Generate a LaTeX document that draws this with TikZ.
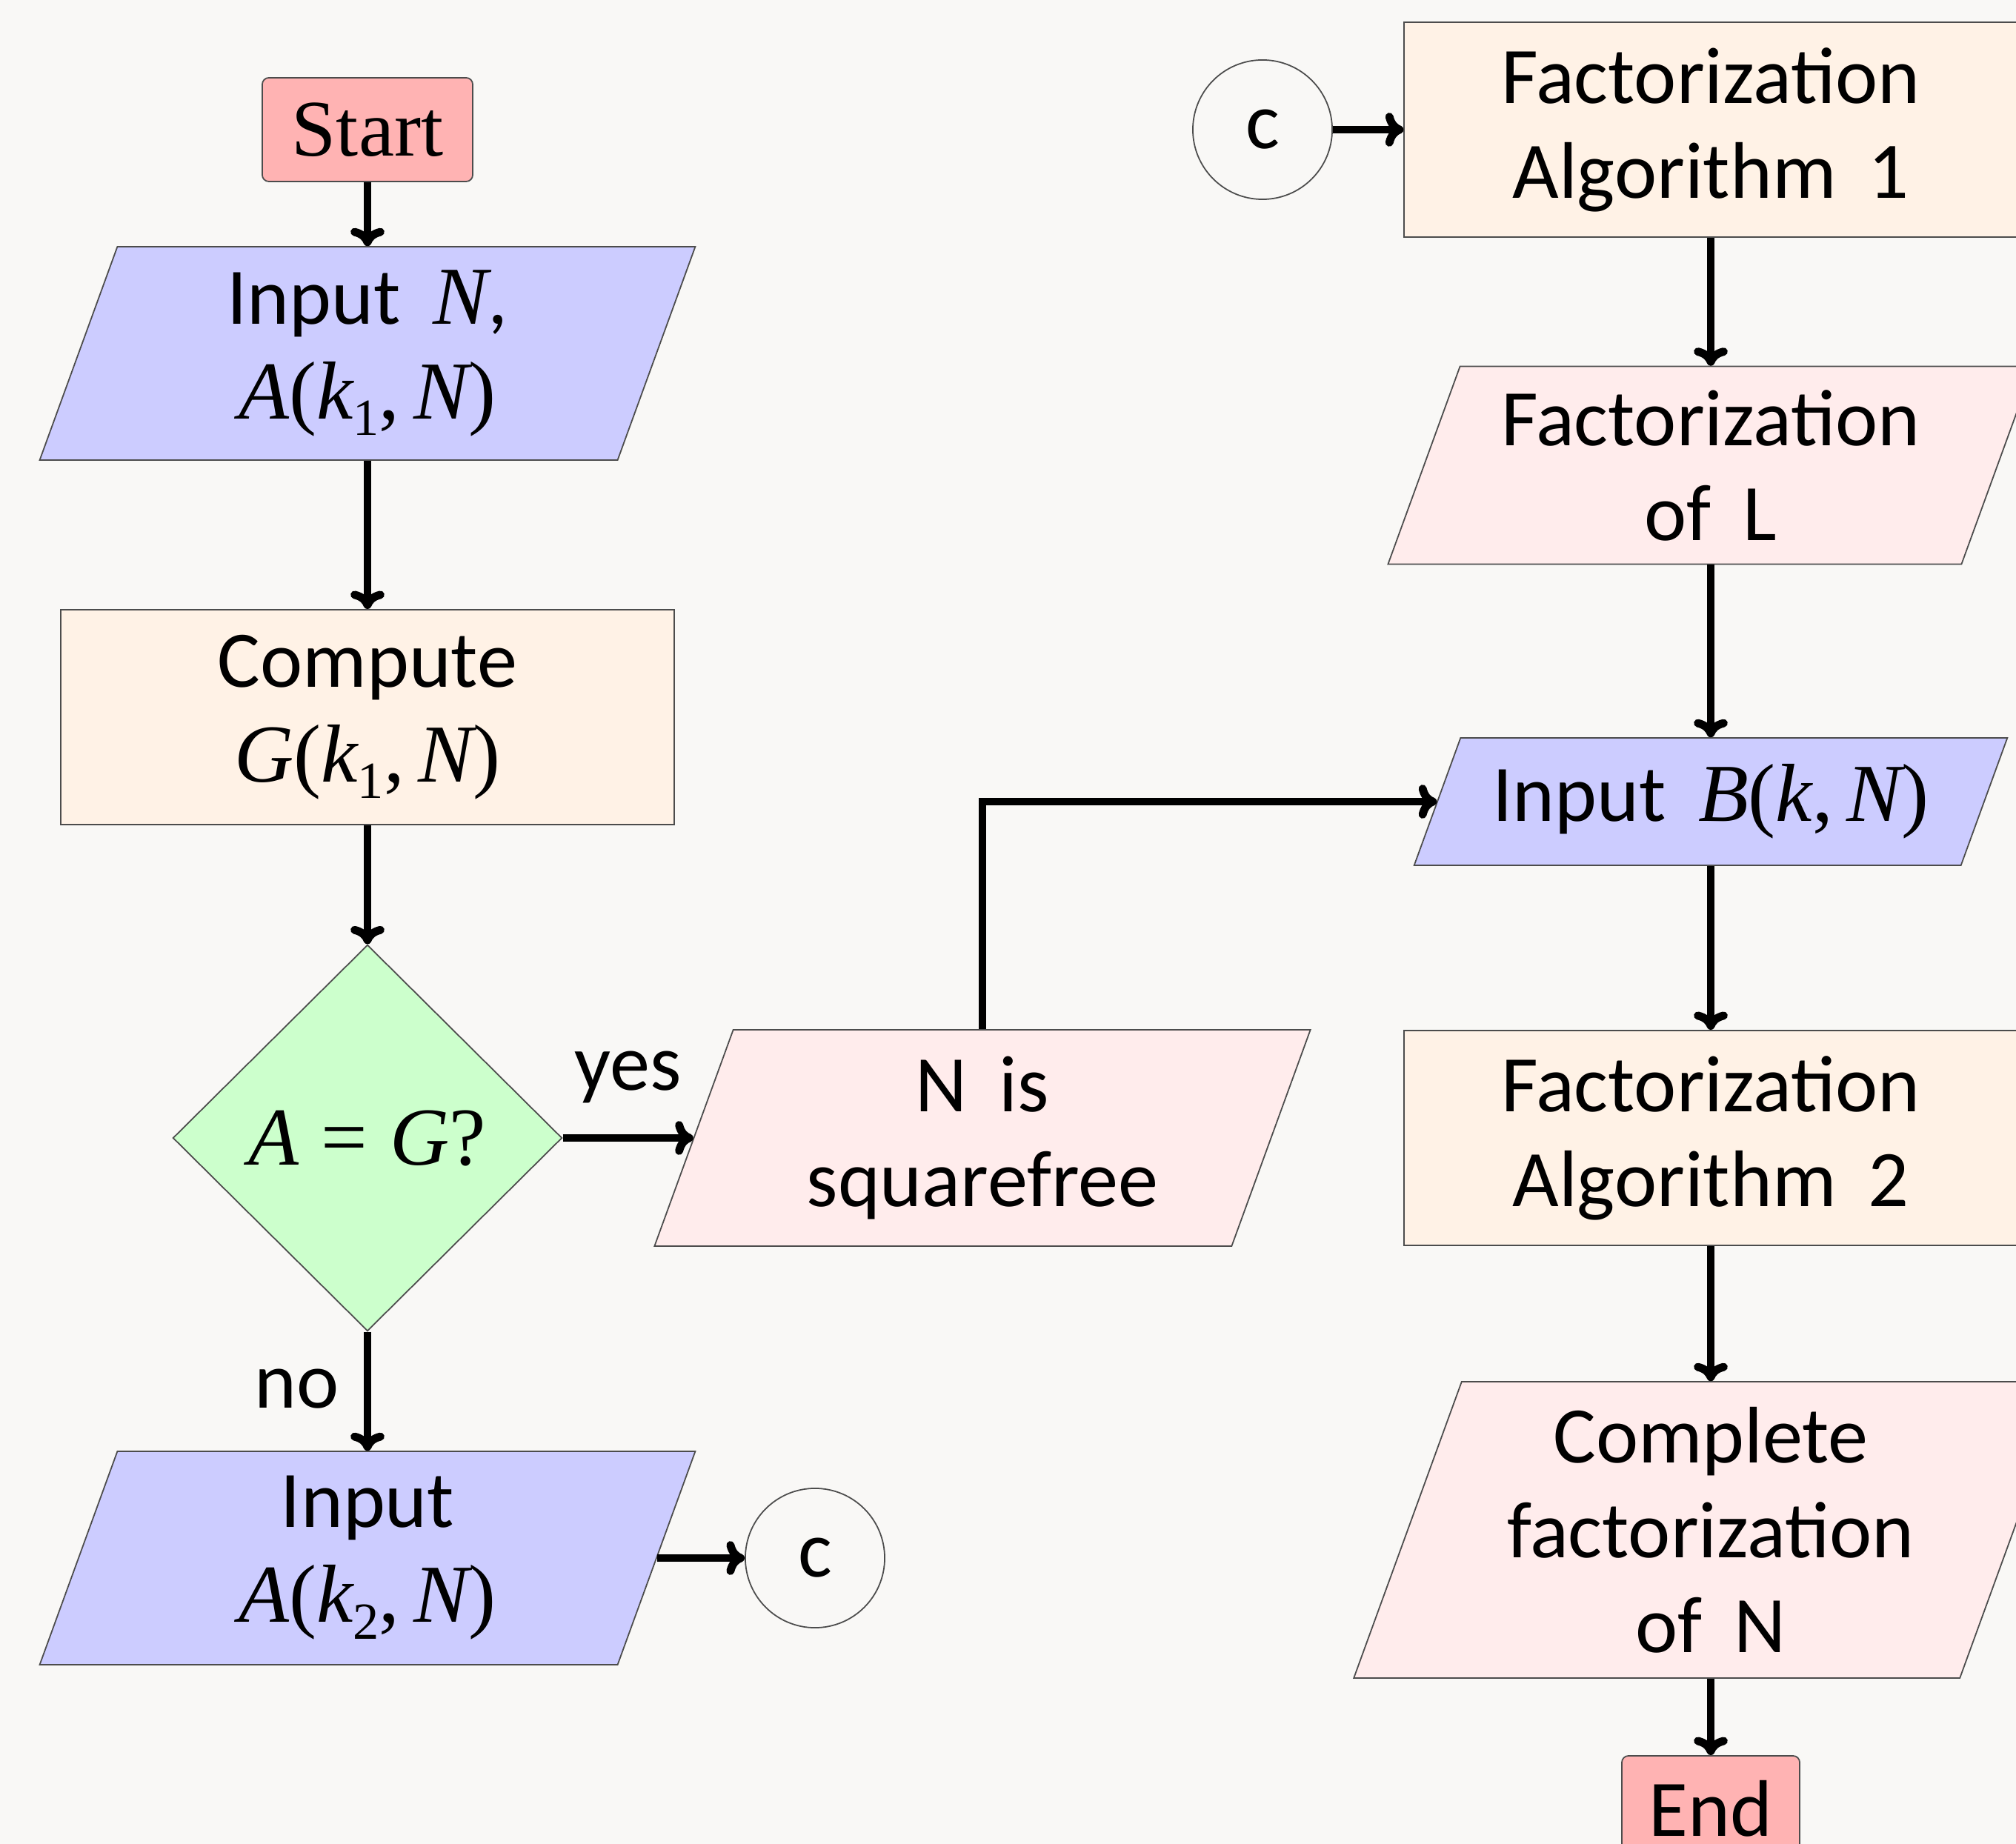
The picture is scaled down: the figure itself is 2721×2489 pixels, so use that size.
\documentclass[tikz,border=0pt]{standalone}
\usepackage{fontspec}
\setmainfont{Carlito}
\newfontfamily\serifface{Liberation Serif}
\usetikzlibrary{shapes.geometric,arrows.meta}

\definecolor{bgcol}{RGB}{249,248,246}
\definecolor{termfill}{RGB}{255,179,179}
\definecolor{iofill}{RGB}{204,204,255}
\definecolor{procfill}{RGB}{255,242,230}
\definecolor{decfill}{RGB}{204,255,204}
\definecolor{outfill}{RGB}{255,236,236}

% text size used throughout the chart, with generous word spaces
\newcommand\chartfont{\fontsize{30.8}{36.4}\selectfont\spaceskip=0.40em plus 0.1em minus 0.05em\relax}
% serif pieces for formulas: italic symbols, upright punctuation
\newcommand\mathsz{\fontsize{31.6}{36.4}\selectfont}
\newcommand\mv[1]{{\serifface\mathsz\itshape #1}}
\newcommand\mup[1]{{\serifface\mathsz #1}}
\newcommand\lowsub[1]{\raisebox{-0.2em}{\fontsize{20}{20}\selectfont #1}}

% input/output box: a parallelogram (sides at 70 degrees) drawn behind a
% rectangular text node of the same mid-height width, so that the node's
% west/east anchors sit on the middle of the slanted sides
% #1 name, #2 x, #3 y, #4 width at mid-height, #5 height, #6 fill, #7 text
\newcommand\iobox[7]{%
  \pgfmathsetmacro\iohw{#4/2}%
  \pgfmathsetmacro\iohh{#5/2}%
  \pgfmathsetmacro\iosl{#5*0.364/2}%
  \pgfmathsetmacro\iomw{#4*0.01}%
  \pgfmathsetmacro\iomh{#5*0.01}%
  \filldraw[border, fill=#6]
    (#2-\iohw-\iosl, #3+\iohh) -- (#2+\iohw-\iosl, #3+\iohh) --
    (#2+\iohw+\iosl, #3-\iohh) -- (#2-\iohw+\iosl, #3-\iohh) -- cycle;
  \node[txt, minimum width=\iomw cm, minimum height=\iomh cm] (#1) at (#2,#3) {#7};
}

\begin{document}
\begin{tikzpicture}[x=0.01cm,y=-0.01cm,
  border/.style={draw=black!70, line width=0.5pt},
  txt/.style={align=center, font=\chartfont, inner sep=2pt, rectangle},
  box/.style={txt, border},
  term/.style={box, fill=termfill, rounded corners=0.09cm},
  proc/.style={box, fill=procfill, minimum width=8.27cm, minimum height=2.9cm},
  dec/.style={box, diamond, fill=decfill, inner sep=0pt},
  conn/.style={border, circle, minimum size=1.88cm, inner sep=0pt, font=\chartfont},
  flow/.style={line width=3.1pt, -{To[length=7pt,width=13pt]}},
  lbl/.style={font=\chartfont, inner sep=0pt}]

\path[use as bounding box, fill=bgcol] (0,0) rectangle (2721,2489);

% left column
\node[term, minimum width=2.84cm, minimum height=1.4cm, font=\chartfont\serifface] (start) at (496,175) {Start};
\iobox{in1}{496}{477}{780}{288}{iofill}{Input \mv{N},\\ \mup{\mv{A}(\mv{k}\lowsub{1},\,\mv{N})}}
\node[proc] (comp) at (496,968) {Compute\\ \mup{\mv{G}(\mv{k}\lowsub{1},\,\mv{N})}};
\node[dec, minimum width=5.25cm, minimum height=5.21cm] (dec) at (496,1536)
  {\mup{\mv{A}\hspace{0.27em}=\hspace{0.27em}\mv{G}?}};
\iobox{in2}{496}{2103}{780}{288}{iofill}{Input\\ \mup{\mv{A}(\mv{k}\lowsub{2},\,\mv{N})}}
\node[conn] (cout) at (1100,2103) {c};
\iobox{sqf}{1326}{1536}{779}{292}{outfill}{N is\\ squarefree}

% right column
\node[conn] (cin) at (1704,175) {c};
\node[proc] (fa1) at (2309,175) {Factorization\\ Algorithm 1};
\iobox{facl}{2309}{628}{774}{267}{outfill}{Factorization\\ of L}
\iobox{inb}{2309}{1082}{738}{172}{iofill}{Input \mup{\mv{B}(\mv{k},\,\mv{N})}}
\node[proc] (fa2) at (2309,1536) {Factorization\\ Algorithm 2};
\iobox{full}{2309}{2065}{818}{400}{outfill}{Complete\\ factorization\\ of N}
\node[term, minimum width=2.4cm, minimum height=1.42cm] (stop) at (2309,2441) {End};

% connectors
\draw[flow] (start) -- (in1);
\draw[flow] (in1) -- (comp);
\draw[flow] (comp) -- (dec);
\draw[flow] (dec) -- node[lbl, anchor=base, yshift=0.645cm] {yes} (sqf.west);
\draw[flow] (dec) -- node[lbl, anchor=base, xshift=-0.95cm, yshift=-0.23cm] {no} (in2);
\draw[flow] (in2.east) -- (cout);
\draw[flow] (sqf.north) |- (inb.west);
\draw[flow] (cin) -- (fa1);
\draw[flow] (fa1) -- (facl);
\draw[flow] (facl) -- (inb);
\draw[flow] (inb) -- (fa2);
\draw[flow] (fa2) -- (full);
\draw[flow] (full) -- (stop);
\end{tikzpicture}
\end{document}
